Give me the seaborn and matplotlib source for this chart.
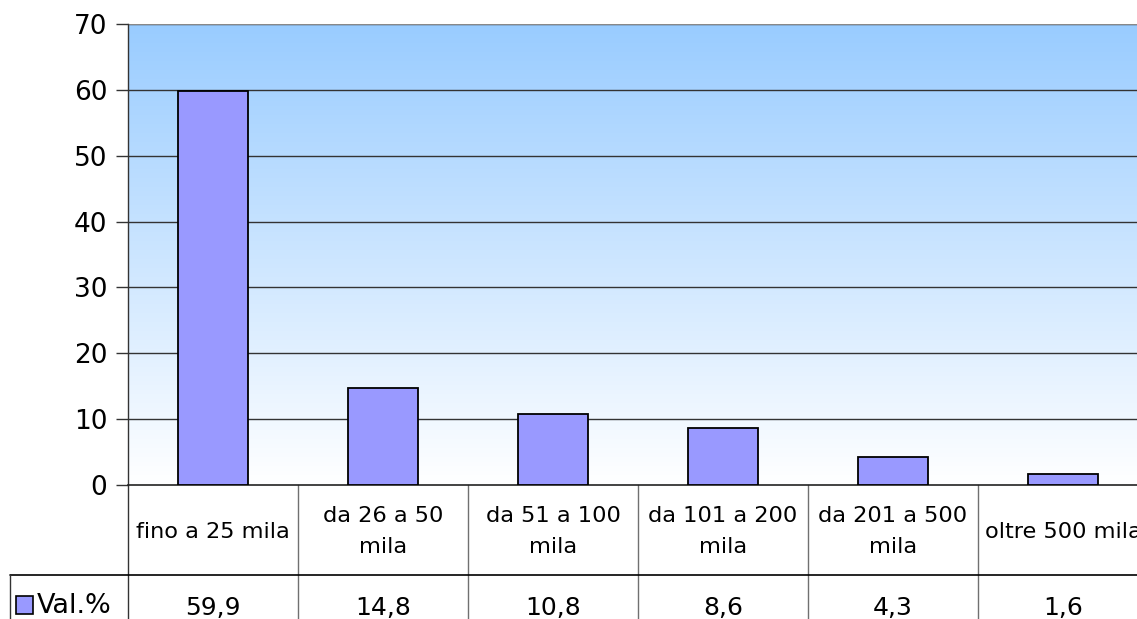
import numpy as np
import matplotlib
matplotlib.use("Agg")
import matplotlib.pyplot as plt
from matplotlib.colors import LinearSegmentedColormap
import seaborn as sns

# dati
categorie = ["fino a 25 mila", "da 26 a 50\nmila", "da 51 a 100\nmila",
             "da 101 a 200\nmila", "da 201 a 500\nmila", "oltre 500 mila"]
valori = [59.9, 14.8, 10.8, 8.6, 4.3, 1.6]
etichette_valori = ["59,9", "14,8", "10,8", "8,6", "4,3", "1,6"]
serie = "Val.%"
yticks = [0, 10, 20, 30, 40, 50, 60, 70]

sns.set_style("white")
plt.rcParams['font.family'] = ['DejaVu Sans']
plt.rcParams['text.color'] = 'black'
plt.rcParams['ytick.labelcolor'] = 'black'

W, H = 1137, 619
fig = plt.figure(figsize=(W / 100, H / 100), dpi=100)
ax_left, ax_bottom, ax_top = 128, 485, 24
ax = fig.add_axes([ax_left / W, (H - ax_bottom) / H, 1020 / W, (ax_bottom - ax_top) / H])

# sfondo sfumato
cmap = LinearSegmentedColormap.from_list("sf", ["#FFFFFF", "#99CCFF"])
grad = np.linspace(0, 1, 256).reshape(-1, 1)
ax.imshow(grad, aspect="auto", cmap=cmap, origin="lower",
          extent=(-0.5, 5.5, 0, 70), zorder=0)

sns.barplot(x=list(range(len(valori))), y=valori, color="#9999FF",
            edgecolor="black", linewidth=1.3, width=0.41, saturation=1,
            ax=ax, zorder=3)

ax.set_xlim(-0.5, 5.5)
ax.set_ylim(0, 70)
ax.set_yticks(yticks)
ax.set_yticklabels([str(t) for t in yticks], fontsize=19, color="black")
for t in yticks[1:]:
    ax.axhline(t, color="#333333", lw=1, zorder=2)
ax.axhline(70, color="#888888", lw=1.5, zorder=2)
ax.tick_params(axis="y", length=9, width=1, color="#333333", pad=6, left=True)
ax.set_xticks([])
ax.set_xlabel("")
ax.set_ylabel("")
for s in ["top", "right"]:
    ax.spines[s].set_visible(False)
ax.spines["left"].set_color("#333333")
ax.spines["bottom"].set_color("#222222")
ax.spines["left"].set_linewidth(1)
ax.spines["bottom"].set_linewidth(1.2)

# tabella dati
tr = ax.get_xaxis_transform()
hpx = ax_bottom - ax_top
def yf(py):
    return (ax_bottom - py) / hpx

riga = 575
x_sin = (10 - ax_left) / 170 - 0.5
for k in range(len(categorie) + 1):
    ax.plot([k - 0.5, k - 0.5], [0, yf(H + 5)], transform=tr,
            color="#333333" if k == 0 else "#707070", lw=1, clip_on=False)
ax.plot([x_sin, 5.5], [yf(riga), yf(riga)], transform=tr, color="black",
        lw=1.2, clip_on=False)
ax.plot([x_sin, x_sin], [yf(riga), yf(H + 5)], transform=tr, color="#333333",
        lw=1, clip_on=False)

for i, (c, v) in enumerate(zip(categorie, etichette_valori)):
    ax.text(i, yf(531.5), c, transform=tr, ha="center", va="center",
            fontsize=16.2, linespacing=1.65, color="black")
    ax.text(i, yf(608), v, transform=tr, ha="center", va="center",
            fontsize=18, color="black")

# legenda
fig.patches.append(plt.Rectangle((16 / W, (H - 614) / H), 17 / W, 18 / H,
                                 transform=fig.transFigure, facecolor="#9999FF",
                                 edgecolor="black", lw=1.2))
fig.text(37 / W, (H - 606) / H, serie, fontsize=19.5, va="center", ha="left",
         color="black")

fig.savefig("out.png", dpi=100)
